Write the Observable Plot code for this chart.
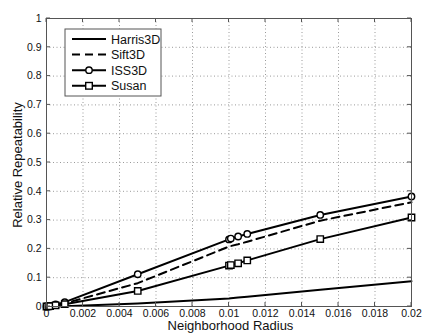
<!DOCTYPE html>
<html><head><meta charset="utf-8">
<script src="https://cdn.jsdelivr.net/npm/d3@7"></script>
<script src="https://cdn.jsdelivr.net/npm/@observablehq/plot@0.6"></script>
<style>body{margin:0;background:#fff} svg{display:block}</style>
</head><body><div id="c"></div><script>
const radius   = [0, 0.0001, 0.0002, 0.0005, 0.001, 0.005, 0.01, 0.0101, 0.0105, 0.011, 0.015, 0.02];
const harris3D = [0, 0, 0, 0.0003, 0.001, 0.010, 0.028, 0.029, 0.031, 0.034, 0.058, 0.088];
const sift3D   = [0, 0.001, 0.002, 0.005, 0.011, 0.081, 0.208, 0.210, 0.216, 0.225, 0.298, 0.362];
const iss3D    = [0, 0.001, 0.002, 0.007, 0.015, 0.112, 0.233, 0.236, 0.243, 0.252, 0.318, 0.382];
const susan    = [0, 0.0005, 0.001, 0.004, 0.008, 0.054, 0.142, 0.144, 0.150, 0.160, 0.234, 0.309];
const seriesNames = ["Harris3D", "Sift3D", "ISS3D", "Susan"];
const xTicks = [0, 0.002, 0.004, 0.006, 0.008, 0.01, 0.012, 0.014, 0.016, 0.018, 0.02];
const yTicks = [0, 0.1, 0.2, 0.3, 0.4, 0.5, 0.6, 0.7, 0.8, 0.9, 1];
const xLabel = "Neighborhood Radius";
const yLabel = "Relative Repeatability";

const toRows = (name, vals) => radius.map((r, i) => ({series: name, x: r, y: vals[i]}));
const harrisRows = toRows("Harris3D", harris3D);
const siftRows = toRows("Sift3D", sift3D);
const issRows = toRows("ISS3D", iss3D);
const susanRows = toRows("Susan", susan);

const font = "'Liberation Sans', Arial, Helvetica, sans-serif";
const chart = Plot.plot({
  width: 422, height: 334,
  marginLeft: 46, marginRight: 11, marginTop: 18, marginBottom: 28,
  style: {fontFamily: font, fontSize: "10.5px", background: "#fff", color: "#111"},
  x: {domain: [0, 0.02]},
  y: {domain: [0, 1]},
  marks: [
    Plot.gridX(xTicks, {stroke: "#9a9a9a", strokeOpacity: 1, strokeDasharray: "1,2.5"}),
    Plot.gridY(yTicks, {stroke: "#9a9a9a", strokeOpacity: 1, strokeDasharray: "1,2.5"}),
    Plot.axisX(xTicks, {tickSize: 0, tickPadding: 3, label: null, tickFormat: d => String(+d.toFixed(4))}),
    Plot.axisY(yTicks, {tickSize: 0, tickPadding: 5, label: null, tickFormat: d => String(+d.toFixed(1))}),
    Plot.line(harrisRows, {x: "x", y: "y", stroke: "#000", strokeWidth: 2}),
    Plot.line(siftRows, {x: "x", y: "y", stroke: "#000", strokeWidth: 2, strokeDasharray: "8,5"}),
    Plot.line(issRows, {x: "x", y: "y", stroke: "#000", strokeWidth: 2}),
    Plot.line(susanRows, {x: "x", y: "y", stroke: "#000", strokeWidth: 2}),
    Plot.dot(issRows, {x: "x", y: "y", symbol: "circle", r: 3.2, stroke: "#000", strokeWidth: 1.4, fill: "#fff"}),
    Plot.dot(susanRows, {x: "x", y: "y", symbol: "square", r: 3.6, stroke: "#000", strokeWidth: 1.4, fill: "#fff"}),
    Plot.frame({stroke: "#555", strokeWidth: 1})
  ]
});
document.getElementById("c").appendChild(chart);

// inward tick marks on all four sides, positioned by the plot's own scales
const sx = chart.scale("x"), sy = chart.scale("y");
const [x0, x1] = sx.range, [y0, y1] = sy.range; // y0 bottom, y1 top
const svg = d3.select(chart);
const tk = svg.append("g").attr("stroke", "#555").attr("stroke-width", 1);
for (const v of xTicks) {
  const px = sx.apply(v);
  tk.append("line").attr("x1", px).attr("x2", px).attr("y1", y0).attr("y2", y0 - 4);
  tk.append("line").attr("x1", px).attr("x2", px).attr("y1", y1).attr("y2", y1 + 4);
}
for (const v of yTicks) {
  const py = sy.apply(v);
  tk.append("line").attr("y1", py).attr("y2", py).attr("x1", x0).attr("x2", x0 + 4);
  tk.append("line").attr("y1", py).attr("y2", py).attr("x1", x1).attr("x2", x1 - 4);
}

// axis titles
svg.append("text").attr("x", (x0 + x1) / 2 + 2).attr("y", 330).attr("text-anchor", "middle")
  .attr("font-family", font).attr("font-size", 13).attr("fill", "#111").text(xLabel);
svg.append("text").attr("transform", `translate(22,${(y0 + y1) / 2 + 3}) rotate(-90)`).attr("text-anchor", "middle")
  .attr("font-family", font).attr("font-size", 13).attr("fill", "#111").text(yLabel);

// legend box inside the axes
const lg = svg.append("g");
const lx = x0 + 19, ly = y1 + 11, lw = 96, lh = 67;
lg.append("rect").attr("x", lx).attr("y", ly).attr("width", lw).attr("height", lh)
  .attr("fill", "#fff").attr("stroke", "#555").attr("stroke-width", 1);
const dashes = [null, "8,5", null, null];
seriesNames.forEach((name, i) => {
  const cy = ly + 10 + i * 15.6;
  const line = lg.append("line").attr("x1", lx + 7).attr("x2", lx + 41).attr("y1", cy).attr("y2", cy)
    .attr("stroke", "#000").attr("stroke-width", 2);
  if (dashes[i]) line.attr("stroke-dasharray", dashes[i]);
  if (name === "ISS3D") lg.append("circle").attr("cx", lx + 24).attr("cy", cy).attr("r", 3.2)
    .attr("fill", "#fff").attr("stroke", "#000").attr("stroke-width", 1.4);
  if (name === "Susan") lg.append("rect").attr("x", lx + 24 - 3.3).attr("y", cy - 3.3).attr("width", 6.6).attr("height", 6.6)
    .attr("fill", "#fff").attr("stroke", "#000").attr("stroke-width", 1.4);
  lg.append("text").attr("x", lx + 46).attr("y", cy).attr("dy", "0.36em").attr("text-anchor", "start")
    .attr("font-family", font).attr("font-size", 12.5).attr("fill", "#111").text(name);
});
</script></body></html>
